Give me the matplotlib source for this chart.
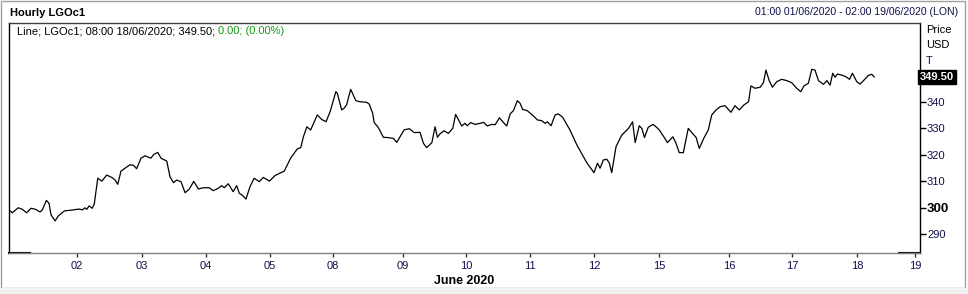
import matplotlib
matplotlib.use("Agg")
import matplotlib.pyplot as plt
from matplotlib.lines import Line2D

plt.rcParams['font.family'] = ['Liberation Sans', 'DejaVu Sans']

# hours since 01:00 01/06/2020 (trading hours only), and price
hours = [0, 1.1, 3.2, 4.6, 6.1, 7.6, 9.2, 10.7, 11.5, 12.9, 13.8, 14.5, 15.9, 17, 19.1, 22.2,
         24.1, 25.3, 26.2, 26.8, 27.6, 28.7, 29.4, 30.6, 32, 33.7, 35.6, 36.6, 37.5, 38.6, 40,
         41.7, 42.9, 44, 45.5, 46.9, 48.9, 50, 51.3, 52.4, 54.4, 55.5, 56.7, 57.8, 59.3, 60.7,
         62.1, 63.7, 65.3, 67, 69, 70.4, 72.2, 73.3, 74.2, 75.6, 77.3, 78.5, 79.4, 80.6, 81.7,
         83.1, 84.5, 86.3, 87.7, 89.8, 91.7, 93.4, 94.9, 97.1, 99.4, 100.6, 101.5, 102.7, 104,
         106.3, 107.8, 109.3, 110.7, 112.7, 113.2, 114.7, 115.5, 116.4, 117.8, 119.6, 121,
         123.3, 124.2, 125.4, 125.9, 127.3, 129.1, 130.8, 132.5, 133.7, 134.8, 136.2, 138,
         139.7, 141.7, 142.9, 144, 145.8, 146.9, 147.7, 148.6, 150, 151.5, 153, 154, 155,
         156.1, 157.2, 158, 159.2, 160.7, 162.4, 163.6, 164.9, 166.4, 167.6, 169.1, 170.4,
         171.6, 172.8, 173.9, 175.3, 176.2, 177.1, 178.7, 180.8, 182.2, 183.7, 184.8, 185.6,
         186.9, 188.3, 189.4, 190.9, 193.4, 195.8, 199.2, 201.7, 202.9, 203.8, 204.9, 206.1,
         207, 207.8, 209.3, 211.3, 213.6, 215, 215.9, 217.3, 218.2, 219.1, 220.4, 222, 223.1,
         224.2, 225.9, 227, 228.9, 230, 231.1, 232.5, 234.2, 235.8, 236.9, 238, 239.4, 241.1,
         242.3, 243.8, 245.2, 246.9, 248.9, 250.3, 251.8, 253.4, 255, 255.8, 257.2, 259,
         260.1, 261, 262.1, 263.2, 264.7, 266.4, 268.2, 269.9, 271.6, 273, 274.1, 275.6,
         276.8, 277.9, 279.1, 280.8, 282, 283.1, 284, 284.8, 285.6, 287.1, 288.5, 289.8,
         290.8, 292.3, 293.4, 294.8, 296.3, 297.5, 298.3]
price = [299.1, 298.0, 299.9, 299.3, 298.0, 299.7, 299.3, 298.3, 299.1, 302.7, 301.6, 297.2,
         294.9, 296.8, 298.7, 299.1, 299.4, 299.1, 299.9, 299.3, 300.6, 299.7, 301.3, 311.1,
         310.0, 312.3, 311.3, 310.4, 308.8, 313.8, 314.9, 316.2, 316.0, 314.7, 318.7, 319.6,
         318.7, 320.2, 320.9, 318.7, 317.6, 311.7, 309.4, 310.4, 309.8, 305.6, 306.9, 309.9,
         307.0, 307.5, 307.5, 306.4, 307.3, 308.3, 307.5, 309.0, 306.0, 308.3, 305.4, 304.5,
         303.2, 307.9, 311.1, 309.8, 311.4, 310.0, 312.1, 313.0, 313.8, 318.7, 322.2, 322.7,
         326.8, 330.6, 329.4, 335.1, 333.4, 332.5, 336.3, 343.9, 343.3, 337.0, 337.6, 338.9,
         344.8, 340.5, 340.1, 339.9, 339.2, 335.7, 332.2, 330.4, 326.6, 326.5, 326.2, 324.7,
         326.8, 329.4, 329.9, 328.4, 328.5, 324.3, 322.7, 324.6, 330.6, 326.6, 327.9, 329.1,
         328.1, 330.0, 335.3, 333.2, 330.9, 331.9, 331.0, 332.2, 331.5, 331.9, 332.3, 330.9,
         331.5, 331.4, 334.0, 332.3, 330.9, 335.5, 336.7, 340.5, 339.5, 337.2, 336.7, 334.7,
         333.2, 332.9, 331.9, 332.5, 331.0, 335.1, 335.5, 334.2, 329.4, 323.7, 317.0, 313.2,
         316.8, 314.9, 318.0, 318.3, 316.8, 313.2, 323.1, 327.5, 330.0, 332.5, 324.6, 331.0,
         330.0, 326.5, 330.4, 331.5, 330.6, 329.4, 326.6, 324.6, 326.8, 324.3, 320.8, 320.8,
         330.0, 327.9, 326.6, 322.4, 325.9, 329.4, 335.1, 337.0, 338.2, 338.6, 336.1, 338.6,
         337.0, 338.9, 340.1, 346.1, 345.2, 345.6, 347.3, 352.1, 348.1, 345.6, 347.7, 348.6,
         348.1, 347.3, 345.2, 343.9, 346.1, 347.1, 352.4, 352.1, 348.1, 346.7, 348.1, 346.4,
         350.9, 349.4, 350.6, 350.2, 349.6, 348.6, 350.9, 347.7, 346.8, 348.3, 350.1, 350.5,
         349.5]

day_pos = [23.4, 45.9, 67.9, 90, 111.7, 135.9, 157.6, 179.7, 201.7, 224.1, 248.3, 270, 292.4, 312.4]
day_labels = ["02", "03", "04", "05", "08", "09", "10", "11", "12", "15", "16", "17", "18", "19"]
y_ticks = [290, 300, 310, 320, 330, 340]
last_price = 349.50

navy = "#10104a"

fig = plt.figure(figsize=(9.68, 2.94), dpi=100)
fig.patch.set_facecolor("white")

# outer window frame
fig.add_artist(plt.Rectangle((0.001, 0.02), 0.996, 0.975, transform=fig.transFigure,
                             fill=False, edgecolor="#a0a0a0", lw=1))
fig.add_artist(plt.Rectangle((0, 0), 1, 0.02, transform=fig.transFigure,
                             facecolor="#f0f0f0", edgecolor="none"))

ax = fig.add_axes([9 / 968, 41 / 294, 911 / 968, 230 / 294])
ax.plot(hours, price, color="black", lw=0.9)
ax.set_xlim(0, 314.1)
ax.set_ylim(282.75, 369.95)

ax.spines["left"].set_color("black")
ax.spines["right"].set_color("black")
ax.spines["top"].set_color("#404040")
ax.spines["bottom"].set_color("#808080")
for s in ax.spines.values():
    s.set_linewidth(1)
# black corner pieces on the bottom line
ax.add_line(Line2D([0, 0.023], [0, 0], transform=ax.transAxes, color="black", lw=1.5, clip_on=False))
ax.add_line(Line2D([0.977, 1], [0, 0], transform=ax.transAxes, color="black", lw=1.5, clip_on=False))

ax.set_xticks(day_pos)
ax.set_xticklabels(day_labels)
ax.tick_params(axis="x", direction="out", length=3, width=1, color="#303030",
               labelsize=8, labelcolor=navy, pad=3)

ax.yaxis.tick_right()
ax.set_yticks(y_ticks)
ax.set_yticklabels([str(v) for v in y_ticks])
ax.tick_params(axis="y", direction="out", length=4, width=1, color="black",
               labelsize=8, labelcolor=navy, pad=1)
for lab in ax.get_yticklabels():
    if lab.get_text() == "300":
        lab.set_fontweight("bold")
        lab.set_fontsize(9.5)
        lab.set_color("black")

ax.set_xlabel("June 2020", fontsize=9, fontweight="bold", labelpad=3)

# last price box
ax.text(1.0, last_price, "%.2f" % last_price, transform=ax.get_yaxis_transform(),
        ha="left", va="center", color="white", fontsize=8, fontweight="bold",
        bbox=dict(boxstyle="square,pad=0.15", facecolor="black", edgecolor="black"))

# axis unit labels
fig.text(926 / 968, 1 - 30 / 294, "Price", fontsize=8, color="black", va="center", ha="left")
fig.text(926 / 968, 1 - 45 / 294, "USD", fontsize=8, color="black", va="center", ha="left")
fig.text(926 / 968, 1 - 61 / 294, "T", fontsize=8, color=navy, va="center", ha="left")

# legend line inside plot
t1 = ax.text(0.009, 0.965, "Line; LGOc1; 08:00 18/06/2020; 349.50; ", transform=ax.transAxes,
             fontsize=8, color="black", va="center", ha="left")
fig.canvas.draw()
bb = t1.get_window_extent()
x_end = ax.transAxes.inverted().transform((bb.x1, bb.y0))[0]
ax.text(x_end, 0.965, "0.00; (0.00%)", transform=ax.transAxes,
        fontsize=8, color="#129a12", va="center", ha="left")

fig.text(10 / 968, 1 - 13 / 294, "Hourly LGOc1", fontsize=8, fontweight="bold", va="center", ha="left")
fig.text(958 / 968, 1 - 12 / 294, "01:00 01/06/2020 - 02:00 19/06/2020 (LON)", fontsize=7.6,
         color=navy, va="center", ha="right")

fig.savefig("out.png", dpi=100)
